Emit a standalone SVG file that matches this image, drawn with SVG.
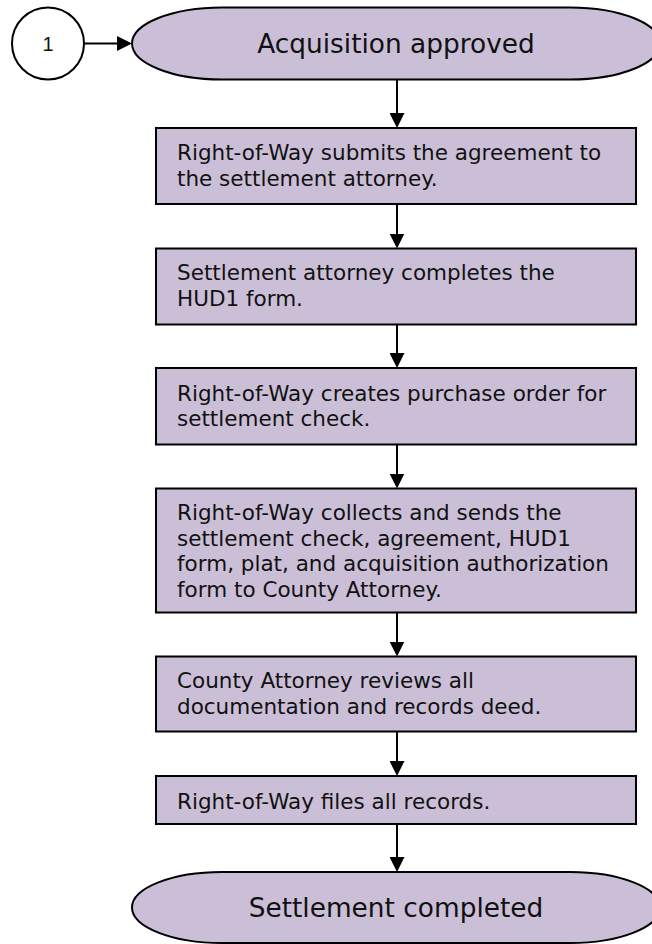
<svg xmlns="http://www.w3.org/2000/svg" width="652" height="944" viewBox="0 0 652 944">
  <style>
    .shape { fill: #CBBFD8; stroke: #000; stroke-width: 2; }
    .conn { fill: none; stroke: #000; stroke-width: 2; }
    .step { font-family: "DejaVu Sans", Verdana, sans-serif; font-size: 21.5px; fill: #111; }
    .term { font-family: "DejaVu Sans", Verdana, sans-serif; font-size: 26.4px; fill: #111; text-anchor: middle; }
    .ref { font-family: "Liberation Sans", Arial, sans-serif; font-size: 20px; fill: #111; text-anchor: middle; }
  </style>
  <defs>
    <marker id="arrow" markerUnits="userSpaceOnUse" markerWidth="15" markerHeight="15" refX="12" refY="7.5" orient="auto">
      <path d="M0,0 L15,7.5 L0,15 Z" fill="#000"/>
    </marker>
  </defs>
  <rect width="652" height="944" fill="#fff"/>

  <!-- off-page reference -->
  <g id="ref-1">
    <circle cx="48" cy="43.5" r="36" fill="#fff" stroke="#000" stroke-width="2"/>
    <text class="ref" x="48" y="50.5">1</text>
  </g>

  <!-- start terminator -->
  <g id="start">
    <path class="shape" d="M222,7.5 H570 A90,36 0 0 1 570,79.5 H222 A90,36 0 0 1 222,7.5 Z"/>
    <text class="term" x="396" y="53">Acquisition approved</text>
  </g>

  <g id="step1">
    <rect class="shape" x="156" y="128" width="480" height="76"/>
    <text class="step" x="177" y="160">Right-of-Way submits the agreement to</text>
    <text class="step" x="177" y="186">the settlement attorney.</text>
  </g>

  <g id="step2">
    <rect class="shape" x="156" y="248.5" width="480" height="76"/>
    <text class="step" x="177" y="280">Settlement attorney completes the</text>
    <text class="step" x="177" y="306">HUD1 form.</text>
  </g>

  <g id="step3">
    <rect class="shape" x="156" y="368" width="480" height="76.5"/>
    <text class="step" x="177" y="400.5">Right-of-Way creates purchase order for</text>
    <text class="step" x="177" y="426">settlement check.</text>
  </g>

  <g id="step4">
    <rect class="shape" x="156" y="488.5" width="480" height="124"/>
    <text class="step" x="177" y="520">Right-of-Way collects and sends the</text>
    <text class="step" x="177" y="545.7">settlement check, agreement, HUD1</text>
    <text class="step" x="177" y="571.3">form, plat, and acquisition authorization</text>
    <text class="step" x="177" y="597">form to County Attorney.</text>
  </g>

  <g id="step5">
    <rect class="shape" x="156" y="656.5" width="480" height="75"/>
    <text class="step" x="177" y="688">County Attorney reviews all</text>
    <text class="step" x="177" y="713.5">documentation and records deed.</text>
  </g>

  <g id="step6">
    <rect class="shape" x="156" y="776" width="480" height="48"/>
    <text class="step" x="177" y="808.5">Right-of-Way files all records.</text>
  </g>

  <!-- end terminator -->
  <g id="end">
    <path class="shape" d="M222,872 H570 A90,35.5 0 0 1 570,943 H222 A90,35.5 0 0 1 222,872 Z"/>
    <text class="term" x="396" y="916.5">Settlement completed</text>
  </g>

  <g id="connectors">
    <line class="conn" x1="84" y1="43.5" x2="129" y2="43.5" marker-end="url(#arrow)"/>
    <line class="conn" x1="397" y1="79.5" x2="397" y2="125" marker-end="url(#arrow)"/>
    <line class="conn" x1="397" y1="204" x2="397" y2="245.5" marker-end="url(#arrow)"/>
    <line class="conn" x1="397" y1="324.5" x2="397" y2="365" marker-end="url(#arrow)"/>
    <line class="conn" x1="397" y1="444.5" x2="397" y2="485.5" marker-end="url(#arrow)"/>
    <line class="conn" x1="397" y1="612.5" x2="397" y2="653.5" marker-end="url(#arrow)"/>
    <line class="conn" x1="397" y1="731.5" x2="397" y2="773" marker-end="url(#arrow)"/>
    <line class="conn" x1="397" y1="824" x2="397" y2="869" marker-end="url(#arrow)"/>
  </g>
</svg>
